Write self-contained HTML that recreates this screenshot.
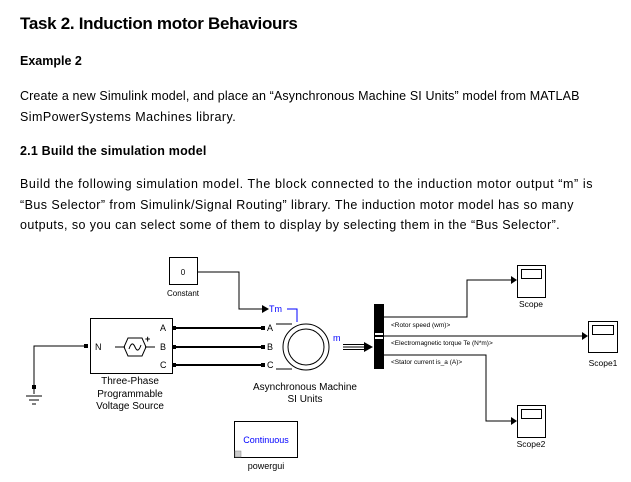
<!DOCTYPE html>
<html><head><meta charset="utf-8"><style>
body{margin:0;background:#fff;width:631px;height:482px;overflow:hidden;position:relative;font-family:"Liberation Sans",sans-serif;color:#000}
.t{position:absolute;white-space:nowrap}
</style></head><body>
<div class="t" style="left:20px;top:14px;font-size:17px;font-weight:bold;letter-spacing:-0.3px">Task 2. Induction motor Behaviours</div>
<div class="t" style="left:20px;top:54px;font-size:12.5px;font-weight:bold;letter-spacing:0px">Example 2</div>
<div class="t" style="left:20px;top:89px;font-size:12.5px;letter-spacing:0.12px">Create a new Simulink model, and place an “Asynchronous Machine SI Units” model from MATLAB</div>
<div class="t" style="left:20px;top:110px;font-size:12.5px;letter-spacing:0.43px">SimPowerSystems Machines library.</div>
<div class="t" style="left:20px;top:144px;font-size:12.5px;font-weight:bold;letter-spacing:0.2px">2.1 Build the simulation model</div>
<div class="t" style="left:20px;top:177px;font-size:12.5px;letter-spacing:0.6px">Build the following simulation model. The block connected to the induction motor output “m” is</div>
<div class="t" style="left:20px;top:198px;font-size:12.5px;letter-spacing:0.45px">“Bus Selector” from Simulink/Signal Routing” library. The induction motor model has so many</div>
<div class="t" style="left:20px;top:218px;font-size:12.5px;letter-spacing:0.43px">outputs, so you can select some of them to display by selecting them in the “Bus Selector”.</div>
<svg width="631" height="482" style="position:absolute;left:0;top:0" font-family="Liberation Sans, sans-serif">
<g fill="none" stroke="#000" stroke-width="1">
<rect x="169.5" y="257.5" width="28" height="27"/>
<polyline points="197,272 239,272 239,309 262,309"/>
<rect x="90.5" y="318.5" width="82" height="55"/>
<line x1="115" y1="347" x2="125" y2="347"/><line x1="145" y1="347" x2="155" y2="347"/>
<polygon points="128,338 142,338 146,347 142,356 128,356 124,347" />
<path d="M129,349 q3,-9 6,-2 q3,7 6,-2"/>
<line x1="175" y1="328" x2="263" y2="328" stroke-width="2"/>
<line x1="175" y1="347" x2="263" y2="347" stroke-width="2"/>
<line x1="175" y1="365" x2="263" y2="365" stroke-width="2"/>
<line x1="276" y1="324" x2="292" y2="324"/><line x1="276" y1="369" x2="292" y2="369"/>
<circle cx="306" cy="347" r="23"/><circle cx="306" cy="347" r="18"/>
<polyline points="287,309 297,309 297,322" stroke="#00f"/>
<line x1="343" y1="344.5" x2="366" y2="344.5"/><line x1="343" y1="347" x2="366" y2="347"/><line x1="343" y1="349.5" x2="366" y2="349.5"/>
<polyline points="383,317 467,317 467,280 511,280"/>
<line x1="383" y1="336" x2="582" y2="336"/>
<polyline points="383,355 486,355 486,421 511,421"/>
<rect x="517.5" y="265.5" width="28" height="32"/><rect x="521.5" y="269.5" width="20" height="9"/>
<rect x="588.5" y="321.5" width="29" height="31"/><rect x="592.5" y="325.5" width="21" height="9"/>
<rect x="517.5" y="405.5" width="28" height="32"/><rect x="521.5" y="409.5" width="20" height="9"/>
<polyline points="85,346 34,346 34,394"/>
<line x1="26" y1="396" x2="42" y2="396"/><line x1="29" y1="400" x2="39" y2="400"/><line x1="32" y1="404" x2="36" y2="404"/>
<rect x="234.5" y="421.5" width="63" height="36"/>
</g>
<g fill="#000">
<polygon points="262,305 269,309 262,313"/>
<rect x="172" y="326" width="4" height="4"/><rect x="172" y="345" width="4" height="4"/><rect x="172" y="363" width="4" height="4"/>
<rect x="261" y="326" width="4" height="4"/><rect x="261" y="345" width="4" height="4"/><rect x="261" y="363" width="4" height="4"/>
<polygon points="364,342 373,347 364,352"/>
<rect x="374" y="304" width="10" height="65"/>
<polygon points="511,276 517,280 511,284"/><polygon points="582,332 588,336 582,340"/><polygon points="511,417 517,421 511,425"/>
<rect x="84" y="344" width="4" height="4"/><rect x="32" y="385" width="4" height="4"/>
</g>
<rect x="375" y="333" width="8" height="2" fill="#fff"/><rect x="375" y="337" width="8" height="2" fill="#fff"/>
<rect x="235" y="451" width="6" height="6" fill="#ccc" stroke="#888" stroke-width="0.5"/>
<g font-size="8" text-anchor="middle">
<text x="183" y="275">0</text>
<text x="183" y="296">Constant</text>
</g>
<g font-size="9">
<text x="160" y="331">A</text><text x="160" y="350">B</text><text x="160" y="368">C</text>
<text x="95" y="350">N</text><text x="145" y="342" font-size="9" font-weight="bold">+</text>
<text x="267" y="331">A</text><text x="267" y="350">B</text><text x="267" y="368">C</text>
<text x="269" y="312" fill="#00f">Tm</text>
<text x="333" y="341" fill="#00f">m</text>
</g>
<g font-size="10" text-anchor="middle">
<text x="130" y="384">Three-Phase</text><text x="130" y="397">Programmable</text><text x="130" y="409">Voltage Source</text>
<text x="305" y="390">Asynchronous Machine</text><text x="305" y="402">SI Units</text>
<text x="266" y="443" fill="#00f" font-size="9">Continuous</text>
<text x="266" y="469" font-size="9">powergui</text>
</g>
<g font-size="8.5" text-anchor="middle">
<text x="531" y="307">Scope</text><text x="603" y="366">Scope1</text><text x="531" y="447">Scope2</text>
</g>
<g font-size="6.5">
<text x="391" y="327">&lt;Rotor speed (wm)&gt;</text>
<text x="391" y="345">&lt;Electromagnetic torque Te (N*m)&gt;</text>
<text x="391" y="364">&lt;Stator current is_a (A)&gt;</text>
</g>
</svg>
</body></html>
